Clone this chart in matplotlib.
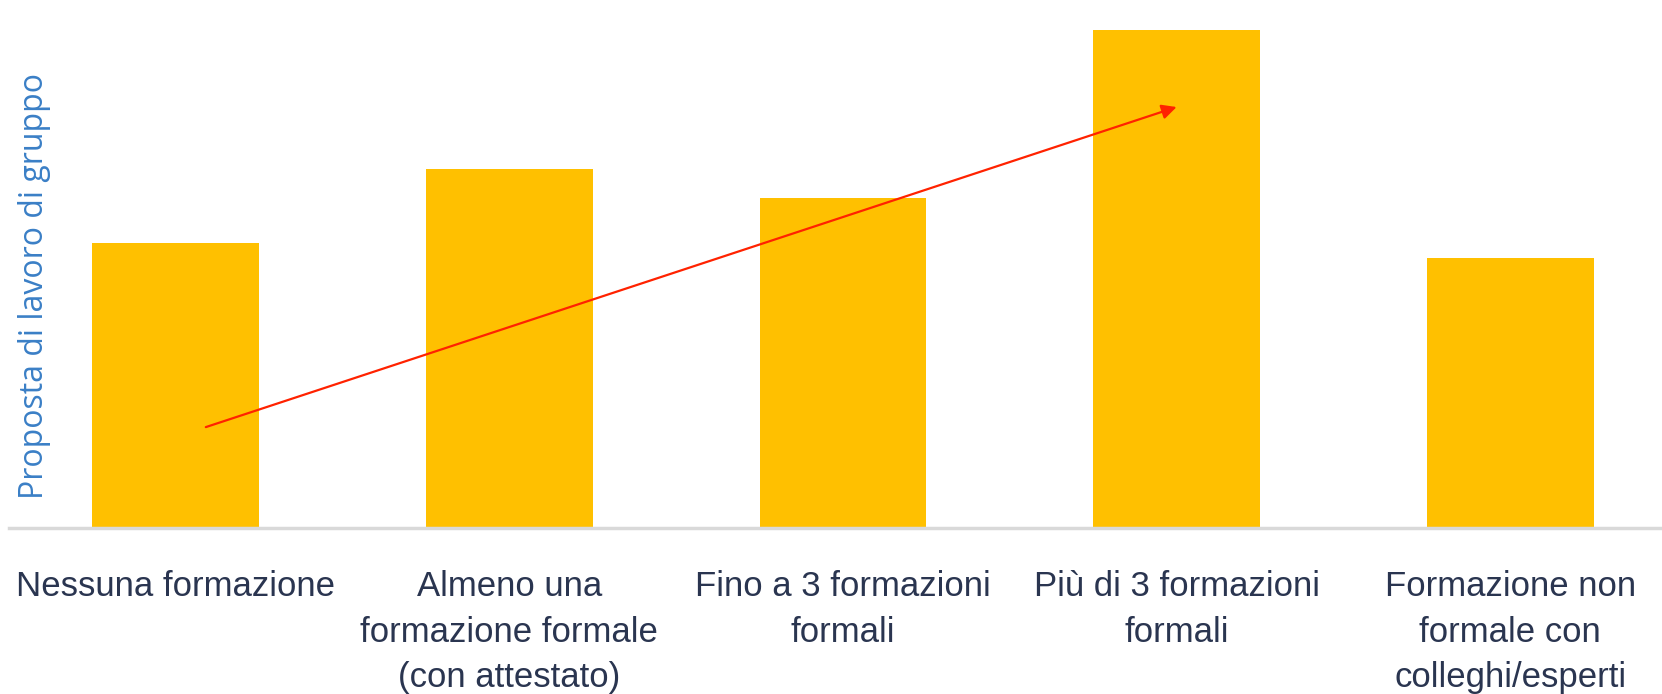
import matplotlib
matplotlib.use("Agg")
from matplotlib import pyplot as plt

categories = ["Nessuna formazione",
              "Almeno una\nformazione formale\n(con attestato)",
              "Fino a 3 formazioni\nformali",
              "Più di 3 formazioni\nformali",
              "Formazione non\nformale con\ncolleghi/esperti"]
values = [2.85, 3.59, 3.30, 4.98, 2.70]
trend_start = (0.09, 1.01)
trend_end = (3.0, 4.21)

fig = plt.figure(figsize=(16.62, 6.94), dpi=100)
ax = fig.add_axes([0.0054, 0.239, 0.9946, 0.761])

x = range(len(categories))
ax.bar(x, values, width=0.5, color="#ffc000", zorder=2)

ax.set_xlim(-0.5, 4.455)
ax.set_ylim(0, 5.28)

for s in ["top", "right", "left"]:
    ax.spines[s].set_visible(False)
ax.spines["bottom"].set_color("#d9d9d9")
ax.spines["bottom"].set_linewidth(2.5)
ax.set_yticks([])

ax.set_xticks(list(x))
ax.set_xticklabels(categories, fontsize=25, color="#2a3550",
                   family="Liberation Sans",
                   linespacing=1.49, va="top")
ax.tick_params(axis="x", length=0, pad=30)

# red trend arrow over the bars
ax.annotate("", xy=trend_end, xytext=trend_start,
            arrowprops=dict(arrowstyle="-|>", color="#ff2200", lw=1.6,
                            mutation_scale=22, shrinkA=0, shrinkB=0),
            zorder=3)

fig.text(0.021, 0.588, "Proposta di lavoro di gruppo", rotation=90,
         fontsize=23, color="#3a7fc6", family="Open Sans",
         ha="center", va="center")

fig.savefig("out.png", dpi=100)
